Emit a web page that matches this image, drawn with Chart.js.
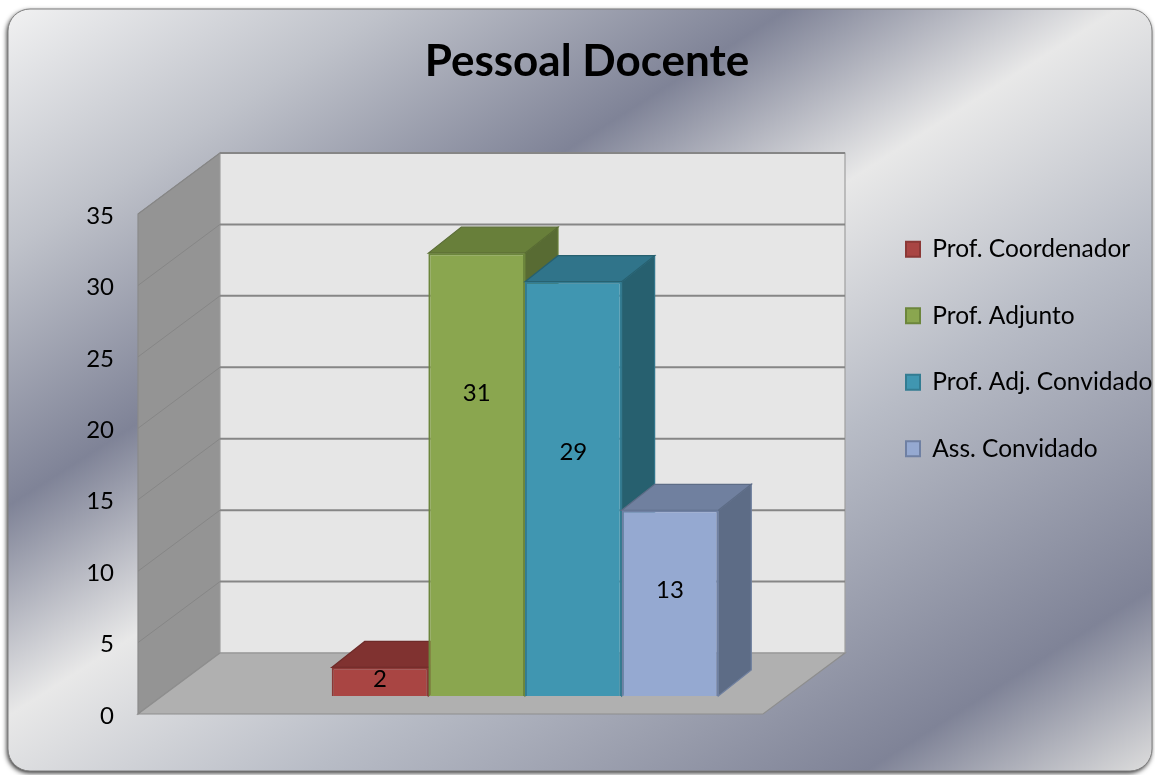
<!DOCTYPE html>
<html>
<head>
<meta charset="utf-8">
<title>Pessoal Docente</title>
<script src="https://cdn.jsdelivr.net/npm/chart.js@4"></script>
<style>
  html, body { margin: 0; padding: 0; background: #fff; }
  canvas { display: block; }
</style>
</head>
<body>
<canvas id="docentesChart" width="1155" height="775"></canvas>
<script>
const chartTitle = 'Pessoal Docente';
const categories = [''];
const seriesNames = ['Prof. Coordenador', 'Prof. Adjunto', 'Prof. Adj. Convidado', 'Ass. Convidado'];
const seriesValues = [2, 31, 29, 13];
const axisMax = 35;
const axisStep = 5;

const frontColors = ['#a94543', '#8aa64f', '#4096b1', '#95a9d1'];
const edgeColors = ['#8b3836', '#6c863c', '#337c92', '#6f80a3'];
const topColors = ['#803230', '#687f3a', '#30748a', '#70809f'];
const sideColors = ['#6e2b29', '#586b33', '#27606f', '#5d6c86'];

// depth of the box, and how far the bars stand in from the front edge
const wallDepth = { x: 82, y: -61 };
const barDepth = { x: 33, y: -26 };
const barShift = { x: 24, y: -18 };
// where the value sits up the bar, as a share of its height
const labelHeights = [0.57, 0.683, 0.589, 0.57];

function polygon(ctx, points, fill, stroke) {
  ctx.beginPath();
  points.forEach((p, i) => i ? ctx.lineTo(p[0], p[1]) : ctx.moveTo(p[0], p[1]));
  ctx.closePath();
  ctx.fillStyle = fill;
  ctx.fill();
  if (stroke) {
    ctx.strokeStyle = stroke;
    ctx.lineWidth = 1.2;
    ctx.stroke();
  }
}

const panelPlugin = {
  id: 'panel',
  beforeDraw(chart) {
    const ctx = chart.ctx;
    const g = ctx.createLinearGradient(0, 0, 681, 1069);
    g.addColorStop(0, '#f4f4f4');
    g.addColorStop(0.17, '#bfc2ca');
    g.addColorStop(0.34, '#7f8397');
    g.addColorStop(0.48, '#e8e8e8');
    g.addColorStop(0.645, '#b8bcc6');
    g.addColorStop(0.88, '#7f8397');
    g.addColorStop(1, '#dcdcdc');
    ctx.save();
    ctx.beginPath();
    ctx.roundRect(8, 9, 1144, 762, 22);
    ctx.shadowColor = 'rgba(0,0,0,0.85)';
    ctx.shadowBlur = 5;
    ctx.shadowOffsetX = -1;
    ctx.shadowOffsetY = 2;
    ctx.fillStyle = g;
    ctx.fill();
    ctx.shadowColor = 'transparent';
    ctx.strokeStyle = '#7f7f7f';
    ctx.lineWidth = 1;
    ctx.stroke();
    ctx.restore();
  }
};

const wallsPlugin = {
  id: 'walls',
  beforeDatasetsDraw(chart) {
    const ctx = chart.ctx;
    const y = chart.scales.y;
    const left = chart.chartArea.left;
    const right = left + 625;
    const top = y.getPixelForValue(axisMax);
    const bottom = y.getPixelForValue(0);
    const dx = wallDepth.x, dy = wallDepth.y;

    polygon(ctx, [[left, top], [left + dx, top + dy], [left + dx, bottom + dy], [left, bottom]], '#949494', '#8a8a8a');
    polygon(ctx, [[left + dx, top + dy], [right + dx, top + dy], [right + dx, bottom + dy], [left + dx, bottom + dy]], '#e6e6e6', '#a0a0a0');
    polygon(ctx, [[left, bottom], [left + dx, bottom + dy], [right + dx, bottom + dy], [right, bottom]], '#b0b0b0', '#8e8e8e');

    ctx.strokeStyle = '#868686';
    for (let v = axisStep; v <= axisMax; v += axisStep) {
      const py = y.getPixelForValue(v);
      ctx.lineWidth = 1;
      ctx.beginPath();
      ctx.moveTo(left, py);
      ctx.lineTo(left + dx, py + dy);
      ctx.stroke();
      ctx.lineWidth = 2;
      ctx.beginPath();
      ctx.moveTo(left + dx, py + dy);
      ctx.lineTo(right + dx, py + dy);
      ctx.stroke();
    }
  },
  // bars are painted left to right below, so each one can cover the side of the last
  beforeDatasetDraw() {
    return false;
  },
  afterDatasetsDraw(chart) {
    const ctx = chart.ctx;
    seriesNames.forEach((name, i) => {
      const bar = chart.getDatasetMeta(i).data[0];
      const x1 = bar.x - bar.width / 2;
      const x2 = bar.x + bar.width / 2;
      ctx.save();
      ctx.translate(barShift.x, barShift.y);
      polygon(ctx, [[x2, bar.y], [x2 + barDepth.x, bar.y + barDepth.y], [x2 + barDepth.x, bar.base + barDepth.y], [x2, bar.base]], sideColors[i], topColors[i]);
      polygon(ctx, [[x1, bar.y], [x1 + barDepth.x, bar.y + barDepth.y], [x2 + barDepth.x, bar.y + barDepth.y], [x2, bar.y]], topColors[i], sideColors[i]);
      bar.draw(ctx);
      ctx.restore();
    });

    ctx.save();
    ctx.fillStyle = '#000';
    ctx.font = '24px Lato';
    ctx.textAlign = 'center';
    ctx.textBaseline = 'middle';
    seriesValues.forEach((v, i) => {
      const bar = chart.getDatasetMeta(i).data[0];
      const py = bar.base - (bar.base - bar.y) * labelHeights[i];
      ctx.fillText(String(v), bar.x + barShift.x, py + barShift.y);
    });
    ctx.restore();
  },
  afterLayout(chart) {
    // legend sits lower than the layout puts it and must not clip its longest label
    chart.legend.top = 195;
    chart.legend.right = chart.width;
  }
};

const datasets = seriesNames.map((name, i) => ({
  label: name,
  data: [seriesValues[i]],
  backgroundColor: frontColors[i],
  borderColor: edgeColors[i],
  borderWidth: 2
}));

new Chart(document.getElementById('docentesChart'), {
  type: 'bar',
  data: { labels: categories, datasets: datasets },
  plugins: [panelPlugin, wallsPlugin],
  options: {
    responsive: false,
    animation: false,
    layout: { padding: { left: 33, right: 14, top: 0, bottom: 61 } },
    datasets: { bar: { categoryPercentage: 0.5325, barPercentage: 1 } },
    scales: {
      x: { display: false },
      y: {
        min: 0,
        max: axisMax,
        afterFit(scale) { scale.width = 105; },
        border: { display: false },
        grid: { display: false, drawTicks: false },
        ticks: { stepSize: axisStep, padding: 24, labelOffset: 2, color: '#000', font: { family: 'Lato', size: 24 } }
      }
    },
    plugins: {
      title: {
        display: true,
        text: chartTitle,
        color: '#000',
        font: { family: 'Lato', size: 44, weight: 'bold', lineHeight: 1 },
        padding: { top: 40, bottom: 130 }
      },
      legend: {
        position: 'right',
        align: 'start',
        labels: {
          color: '#000',
          boxWidth: 14,
          boxHeight: 15,
          padding: 42,
          font: { family: 'Lato', size: 24.5, lineHeight: 1 }
        }
      },
      tooltip: { enabled: false }
    }
  }
});
</script>
</body>
</html>
